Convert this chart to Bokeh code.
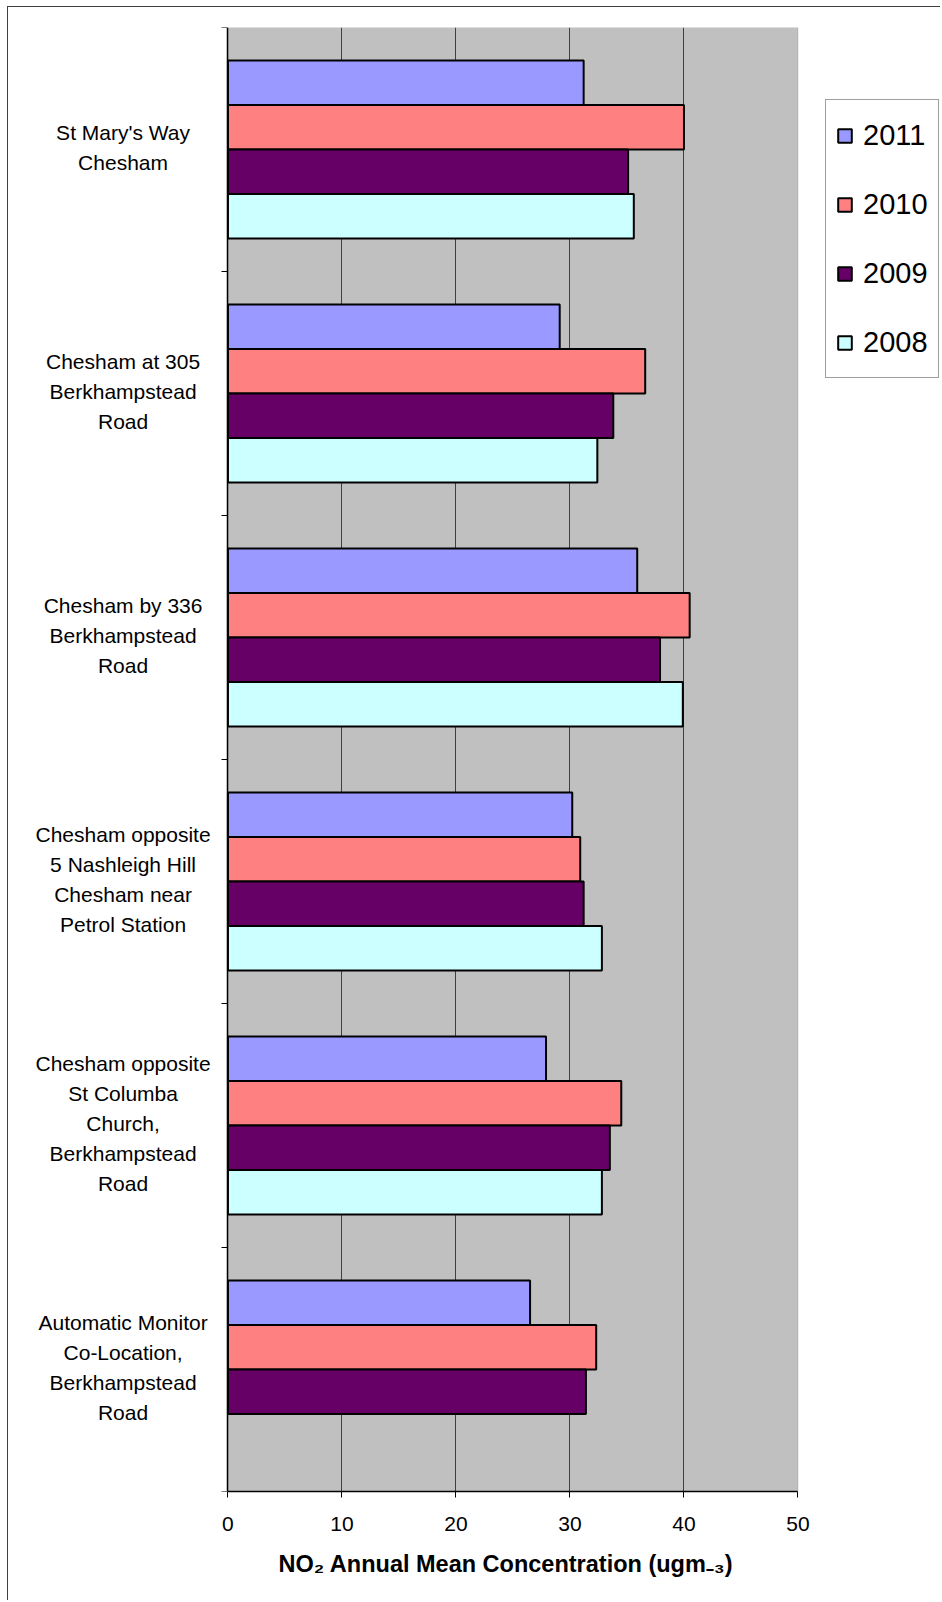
from bokeh.plotting import figure
from bokeh.models import (ColumnDataSource, Range1d, FixedTicker, Legend, LegendItem,
                          BoxAnnotation, LinearAxis, Title)
from bokeh.core.properties import value
from bokeh.embed import file_html
from bokeh.resources import INLINE

# ---------------- data ----------------
sites = [
    "St Mary's Way\nChesham",
    "Chesham at 305\nBerkhampstead\nRoad",
    "Chesham by 336\nBerkhampstead\nRoad",
    "Chesham opposite\n5 Nashleigh Hill\nChesham near\nPetrol Station",
    "Chesham opposite\nSt Columba\nChurch,\nBerkhampstead\nRoad",
    "Automatic Monitor\nCo-Location,\nBerkhampstead\nRoad",
]
years = ["2011", "2010", "2009", "2008"]
no2_2011 = [31.2, 29.1, 35.9, 30.2, 27.9, 26.5]
no2_2010 = [40.0, 36.6, 40.5, 30.9, 34.5, 32.3]
no2_2009 = [35.1, 33.8, 37.9, 31.2, 33.5, 31.4]
no2_2008 = [35.6, 32.4, 39.9, 32.8, 32.8, None]
x_ticks = [0, 10, 20, 30, 40, 50]
x_title = "NO\u2082 Annual Mean Concentration (ugm\u208b\u2083)"

series = [no2_2011, no2_2010, no2_2009, no2_2008]
colors = ["#9999FF", "#FF8080", "#660066", "#CCFFFF"]

FONT = "Liberation Sans"
X_MIN, X_MAX = x_ticks[0], x_ticks[-1]
# view extends left (category labels) and right (legend) of the 0..50 plot area
X_VIEW = (-19.25, 62.59)
LABEL_X = -9.2

ncat = len(sites)
p = figure(width=933, height=1594, output_backend="svg", toolbar_location=None,
           x_range=Range1d(*X_VIEW), y_range=Range1d(ncat - 0.5, -0.5),
           y_axis_location=None,
           min_border_left=0, min_border_top=20, min_border_bottom=110,
           min_border_right=0,
           background_fill_color="white", border_fill_color="white",
           styles={"margin": "6px 0 0 7px",
                   "border-left": "1.5px solid #404040",
                   "border-top": "1.5px solid #404040"})
p.outline_line_color = None

# grey plot area (0..50) with its thin outline
p.add_layout(BoxAnnotation(left=X_MIN, right=X_MAX, fill_color="#C0C0C0", fill_alpha=1,
                           line_color="#808080", line_width=1, level="image"))

n = len(years)
bar_h = 0.1825
renderers = []
for k, (yr, vals, col) in enumerate(zip(years, series, colors)):
    ys, xs = [], []
    for i, v in enumerate(vals):
        if v is None:
            continue
        ys.append(i + (k - (n - 1) / 2) * bar_h)
        xs.append(v)
    src = ColumnDataSource(dict(y=ys, right=xs))
    r = p.hbar(y="y", right="right", left=0, height=bar_h, source=src,
               fill_color=col, line_color="black", line_width=2)
    renderers.append((yr, r))

# x axis
xa = p.xaxis[0]
xa.ticker = FixedTicker(ticks=x_ticks)
xa.bounds = (X_MIN, X_MAX)
xa.axis_line_color = "black"
xa.axis_line_width = 1.5
xa.major_tick_line_color = "black"
xa.major_tick_out = 6
xa.major_tick_in = 0
xa.minor_tick_line_color = None
xa.major_label_text_font = FONT
xa.major_label_text_font_size = "21px"
xa.major_label_text_color = "black"
xa.major_label_standoff = 19

# x axis title, centred under the 0..50 plot area
p.add_layout(Title(text=x_title, align="left", offset=270, standoff=34,
                   vertical_align="top", text_font=FONT, text_font_size="23.5px",
                   text_font_style="bold", text_color="black"), "below")

# y axis at x = 0, small ticks at category boundaries
bounds = [c + 0.5 for c in range(-1, ncat)]
ya = LinearAxis(fixed_location=X_MIN,
                ticker=FixedTicker(ticks=bounds),
                major_label_overrides={b: "" for b in bounds},
                axis_line_color="black", axis_line_width=1.5,
                major_tick_line_color="black", major_tick_out=6, major_tick_in=0,
                minor_tick_line_color=None)
p.add_layout(ya, "left")

# category labels
lab_src = ColumnDataSource(dict(x=[LABEL_X] * ncat, y=list(range(ncat)), text=sites))
p.text(x="x", y="y", text="text", source=lab_src, text_align="center",
       text_baseline="middle", text_font=value(FONT), text_font_size="21px",
       text_color="black", text_line_height=1.31, y_offset=-2)

p.xgrid.ticker = FixedTicker(ticks=x_ticks[1:-1])
p.xgrid.grid_line_color = "#404040"
p.xgrid.grid_line_width = 1
p.ygrid.grid_line_color = None

legend = Legend(items=[LegendItem(label=yr, renderers=[r]) for yr, r in renderers],
                location=(817, 1113), orientation="vertical",
                label_text_font=FONT, label_text_font_size="29px",
                label_text_color="black", label_height=50,
                glyph_width=17, glyph_height=17, label_standoff=10,
                spacing=19, padding=10, margin=0,
                border_line_color="#404040", border_line_width=1,
                background_fill_color="white", background_fill_alpha=1)
p.add_layout(legend)

open("out.html", "w").write(file_html(p, INLINE))
